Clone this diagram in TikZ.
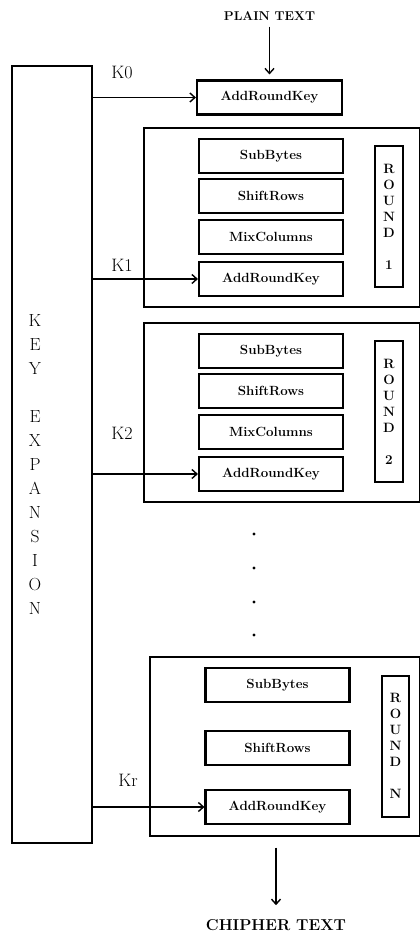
\documentclass[tikz,border=0pt]{standalone}
\usepackage{tikz}
\usetikzlibrary{arrows.meta}

\begin{document}
\begin{tikzpicture}[x=1pt,y=-1pt,
  op/.style={draw,line width=2.1pt,minimum width=144pt,minimum height=34pt,inner sep=0pt,font=\fontsize{13.3}{15}\selectfont\bfseries},
  roundframe/.style={draw,line width=1.4pt,inner sep=0pt},
  roundtag/.style={draw,line width=2pt,minimum width=28pt,minimum height=141pt,inner sep=0pt,align=center,font=\fontsize{13.5}{16}\selectfont\bfseries},
  klabel/.style={inner sep=0pt,font=\fontsize{18}{20}\selectfont},
  endtext/.style={inner sep=0pt,font=\fontsize{12.8}{14}\selectfont\bfseries},
  arr/.style={-{Straight Barb[length=5pt,width=9pt]},line width=1.4pt}]
  \useasboundingbox (0,0) rectangle (420,934);
  \node[roundframe,minimum width=80pt,minimum height=777pt] (key) at (52,454.5) {};
  \node[align=center,inner sep=0pt,font=\fontsize{17.5}{24}\selectfont] (keytxt) at (35,465) {K\\E\\Y\\[24pt]E\\X\\P\\A\\N\\S\\I\\O\\N};
  \node[endtext] (plain) at (269.5,16) {PLAIN TEXT};
  \node[op,minimum width=145pt] (ark0) at (269.5,97.5) {AddRoundKey};
  \node[klabel] (k0) at (122,72) {K0};
  \draw[arr,shorten <=6pt,shorten >=5pt] (plain) -- (ark0);
  \draw[arr] (key.east |- ark0) -- (ark0);
  \foreach \r/\y/\ky in {1/156/265,2/351/433} {
    \node[roundframe,minimum width=276pt,minimum height=179pt] (rf\r) at (282,\y+61.5) {};
    \node[op] (sb\r) at (271,\y) {SubBytes};
    \node[op] (sr\r) at (271,\y+40) {ShiftRows};
    \node[op] (mc\r) at (271,\y+81) {MixColumns};
    \node[op] (ark\r) at (271,\y+123) {AddRoundKey};
    \node[roundtag] (tag\r) at (389,\y+60.5) {R\\O\\U\\N\\D\\[16pt]\r};
    \node[klabel] (k\r) at (122,\ky) {K\r};
    \draw[arr] (key.east |- ark\r) -- (ark\r);
  }
  \foreach \y in {534,568,602,635}
    \fill (254,\y) circle (1.7);
  \node[roundframe,minimum width=270pt,minimum height=179pt] (rfN) at (285,746.5) {};
  \node[op] (sbN) at (277.5,685) {SubBytes};
  \node[op] (srN) at (277.5,748) {ShiftRows};
  \node[op] (arkN) at (277.5,807) {AddRoundKey};
  \node[roundtag,minimum width=27pt] (tagN) at (395.5,746) {R\\O\\U\\N\\D\\[16pt]N};
  \node[klabel] (kr) at (128,780) {Kr};
  \draw[arr] (key.east |- arkN) -- (arkN);
  \node[endtext,font=\fontsize{15.8}{18}\selectfont\bfseries] (cipher) at (276,925) {CHIPHER TEXT};
  \draw[arr,shorten <=11pt,shorten >=14pt] (cipher.north |- rfN.south) -- (cipher.north);
\end{tikzpicture}
\end{document}
